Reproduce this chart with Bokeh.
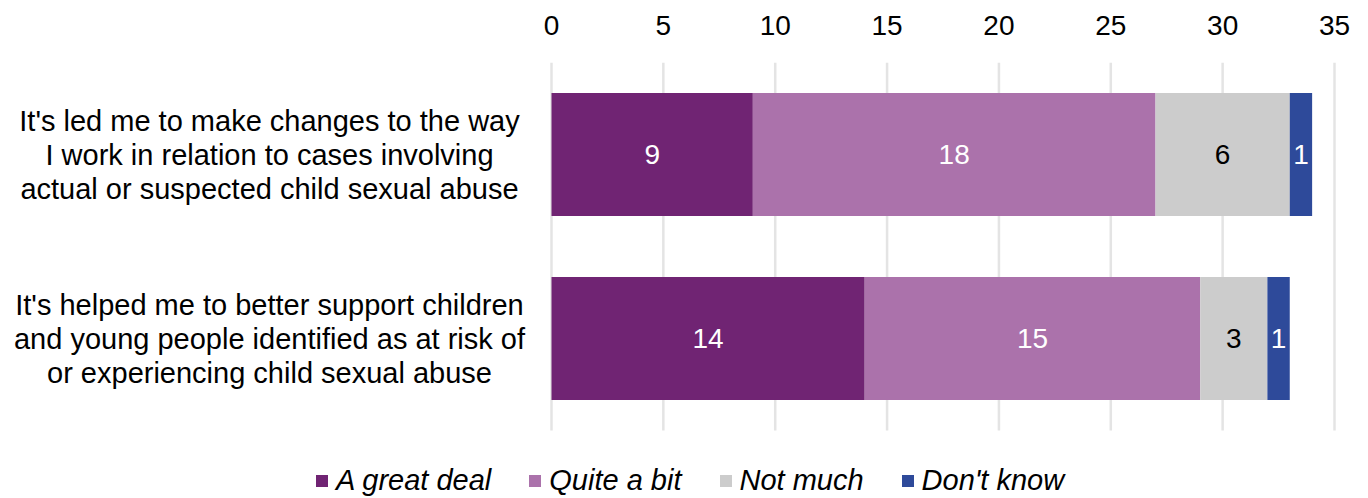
from bokeh.plotting import figure
from bokeh.models import Range1d, ColumnDataSource, Legend, LegendItem, FixedTicker
from bokeh.core.properties import value
from bokeh.embed import file_html
from bokeh.resources import INLINE

# ---- data ----
categories = [
    "It's led me to make changes to the way\nI work in relation to cases involving\nactual or suspected child sexual abuse",
    "It's helped me to better support children\nand young people identified as at risk of\nor experiencing child sexual abuse",
]
series = ["A great deal", "Quite a bit", "Not much", "Don't know"]
great_deal = [9, 14]
quite_a_bit = [18, 15]
not_much = [6, 3]
dont_know = [1, 1]
x_ticks = [0, 5, 10, 15, 20, 25, 30, 35]

# ---- style ----
colors = ["#702473", "#ab72ab", "#cccccc", "#2e4a9a"]
label_colors = ["white", "white", "black", "white"]
FONT = "Liberation Sans"
W, H = 1368, 498
TOP = 62                 # frame top (axis above)
PLOT_L, PLOT_R = 551, 1334   # pixel positions of 0 and 35
BAND = 184               # pixels per category band
x_max = x_ticks[-1]
ppu = (PLOT_R - PLOT_L) / x_max
x_start = -PLOT_L / ppu
x_end = x_max + (W - PLOT_R) / ppu
n = len(categories)
y_top = n - 0.5
y_bottom = y_top - (H - TOP) / BAND

keys = ["s0", "s1", "s2", "s3"]
values = [great_deal, quite_a_bit, not_much, dont_know]
ypos = [n - 1 - i for i in range(n)]   # first category on top
src = ColumnDataSource(dict(y=ypos, **{k: v for k, v in zip(keys, values)}))

p = figure(width=W, height=H,
           x_range=Range1d(x_start, x_end), y_range=Range1d(y_bottom, y_top),
           x_axis_location="above",
           output_backend="svg", toolbar_location=None,
           min_border_left=0, min_border_right=0,
           min_border_top=TOP, min_border_bottom=0)

# grid lines (only over the bar area)
p.segment(x0=x_ticks, x1=x_ticks, y0=[-0.5] * len(x_ticks), y1=[y_top] * len(x_ticks),
          line_color="#e4e4e4", line_width=2.5)

renderers = p.hbar_stack(keys, y="y", height=0.668, color=colors, source=src, line_color=None)

# value labels inside segments
tx, ty, tt, tc = [], [], [], []
for i in range(n):
    left = 0
    for j, vals in enumerate(values):
        v = vals[i]
        tx.append(left + v / 2)
        ty.append(ypos[i])
        tt.append(str(v))
        tc.append(label_colors[j])
        left += v
p.text(x=tx, y=ty, text=tt, text_color=tc, text_align="center", text_baseline="middle",
       text_font=value(FONT), text_font_size="28px")

# category labels (multi-line, centred)
lx, ly, lt, lo = [], [], [], []
for i, cat in enumerate(categories):
    lines = cat.split("\n")
    m = len(lines)
    for k, line in enumerate(lines):
        lx.append(0)
        ly.append(ypos[i])
        lt.append(line)
        lo.append((k - (m - 1) / 2) * 34)
p.text(x=lx, y=ly, text=lt, y_offset=lo, x_offset=-282,
       text_align="center", text_baseline="middle",
       text_font=value(FONT), text_font_size="29px", text_color="black")

# axes
p.xaxis.ticker = FixedTicker(ticks=x_ticks)
p.xaxis.axis_line_color = None
p.xaxis.major_tick_line_color = None
p.xaxis.minor_tick_line_color = None
p.xaxis.major_label_standoff = 22
p.xaxis.major_label_text_font = FONT
p.xaxis.major_label_text_font_size = "28px"
p.xaxis.major_label_text_color = "black"
p.yaxis.visible = False
p.xgrid.visible = False
p.ygrid.visible = False
p.outline_line_color = None

legend = Legend(items=[LegendItem(label=s, renderers=[r]) for s, r in zip(series, renderers)],
                orientation="horizontal", location=(314, 1),
                glyph_width=15, glyph_height=15, label_standoff=7, spacing=36,
                padding=0, margin=0, border_line_color=None, background_fill_alpha=0,
                label_text_font=FONT, label_text_font_size="29px",
                label_text_font_style="italic", label_text_color="black")
p.add_layout(legend, "center")

open("out.html", "w").write(file_html(p, INLINE))
